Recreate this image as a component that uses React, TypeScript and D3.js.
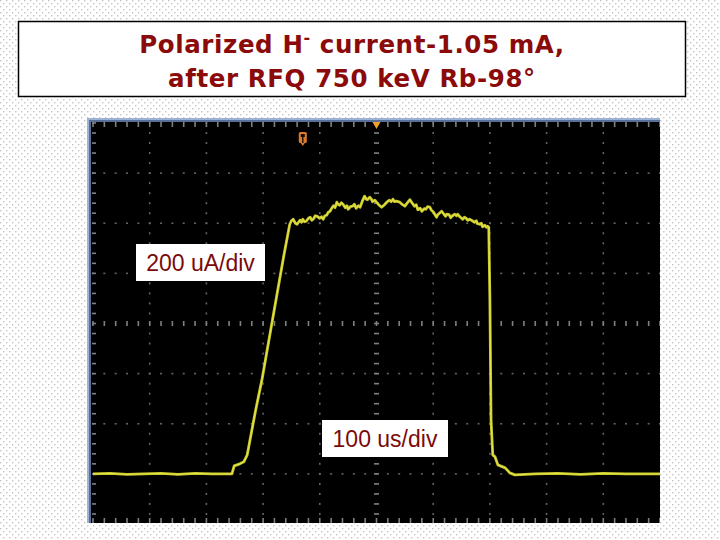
import React from 'react';
import * as d3 from 'd3';

// scope trace: time (us) and current (uA)
const timeUs = [
  0, 30, 60, 90, 120, 150, 180, 210, 245, 249, 259, 266, 272, 277, 287, 298, 312, 326, 337, 347,
  350, 353, 357, 360, 365, 368, 370, 373, 376, 380, 383, 386, 389, 392, 395, 400, 403, 406, 409, 412, 415, 418, 421, 424, 427, 430, 433, 435, 438, 441, 445, 448, 450, 454,
  458, 461, 464, 468, 471, 475, 479, 482, 484, 488, 491, 493, 497, 500, 503, 506, 509, 514, 518, 521, 523, 526, 529, 532, 535, 541, 546, 550,
  554, 559, 563, 567, 570, 573, 577, 580, 584, 587, 590, 594, 597, 600, 606, 608, 611, 615, 619, 622, 624, 628, 631, 633, 638, 641, 643, 647,
  652, 655, 658, 661, 664, 669, 673, 676, 678, 682, 685, 687, 691, 694, 696, 698, 700, 702, 705, 709, 714, 727, 735, 744,
  780, 820, 860, 900, 940, 1000
];
const currentUa = [
  0, 2, -2, 0, 2, -2, 2, 0, 0, 32, 40, 48, 76, 136, 256, 376, 556, 736, 876, 996,
  1010, 1016, 1000, 996, 1012, 1004, 1016, 1006, 1008, 1020, 1024, 1012, 1018, 1030, 1028, 1020, 1026, 1016, 1030, 1032, 1044, 1048, 1060, 1070, 1062, 1084, 1074, 1072, 1082, 1076, 1062, 1070, 1056, 1066,
  1068, 1076, 1060, 1070, 1064, 1088, 1108, 1096, 1094, 1104, 1096, 1086, 1092, 1084, 1076, 1070, 1064, 1074, 1084, 1090, 1092, 1086, 1096, 1086, 1088, 1084, 1074, 1068,
  1080, 1094, 1080, 1068, 1074, 1054, 1060, 1048, 1058, 1056, 1066, 1064, 1052, 1046, 1024, 1034, 1040, 1048, 1036, 1028, 1036, 1034, 1022, 1028, 1036, 1030, 1036, 1026,
  1016, 1024, 1020, 1012, 1016, 1010, 1004, 1010, 998, 996, 1000, 986, 992, 984, 988, 984, 696, 216, 76, 68, 36, 24, 4, -4,
  0, 2, -2, 2, 0, 0
];

const titleLine1 = 'Polarized H';
const titleSup = '-';
const titleLine1b = ' current-1.05 mA,';
const titleLine2 = 'after RFQ 750 keV Rb-98°';
const yLabel = '200 uA/div';
const xLabel = '100 us/div';

const timeDivs = d3.range(0, 1001, 100);
const currentDivs = d3.range(-200, 1401, 200);

const W = 720;
const H = 540;

const App: React.FC = () => {
  const scr = { left: 91, right: 660, top: 122, bottom: 523 };
  const x = d3.scaleLinear().domain([0, 1000]).range([93, 660]);
  const y = d3.scaleLinear().domain([-200, 1400]).range([524, 123]);

  const data = timeUs.map((t, i) => ({ t, v: currentUa[i] }));
  const line = d3.line<{ t: number; v: number }>()
    .x(d => x(d.t))
    .y(d => y(d.v));

  const minorX = d3.range(0, 1000.1, 20);
  const minorY = d3.range(-200, 1400.1, 40);
  const xMid = x(500);
  const yMid = y(600);

  const dots: React.ReactNode[] = [];
  // dotted graticule lines
  timeDivs.slice(1, -1).forEach(t => {
    if (t === 500) return;
    minorY.forEach(v => {
      dots.push(<rect key={`v${t}-${v}`} x={x(t) - 0.8} y={y(v) - 1} width={1.6} height={2} fill="#646464" />);
    });
  });
  currentDivs.slice(1, -1).forEach(v => {
    if (v === 600) return;
    minorX.forEach(t => {
      dots.push(<rect key={`h${v}-${t}`} x={x(t) - 1} y={y(v) - 0.8} width={2} height={1.6} fill="#646464" />);
    });
  });
  // centre cross and edge ticks
  minorY.forEach(v => {
    dots.push(<rect key={`cy${v}`} x={xMid - 2.5} y={y(v) - 0.8} width={5} height={1.6} fill="#808080" />);
    dots.push(<rect key={`ly${v}`} x={scr.left + 1} y={y(v) - 0.8} width={4} height={1.6} fill="#808080" />);
  });
  minorX.forEach(t => {
    dots.push(<rect key={`cx${t}`} x={x(t) - 0.8} y={yMid - 2.5} width={1.6} height={5} fill="#808080" />);
    dots.push(<rect key={`tx${t}`} x={x(t) - 0.8} y={scr.top} width={1.6} height={5} fill="#808080" />);
    dots.push(<rect key={`bx${t}`} x={x(t) - 0.8} y={scr.bottom - 5} width={1.6} height={5} fill="#808080" />);
  });

  const titleStyle = { fontFamily: '"DejaVu Sans", sans-serif', fontWeight: 700, fontSize: 24.5 };
  const labelStyle = { fontFamily: '"Liberation Sans", Arial, sans-serif', fontSize: 23 };

  return (
    <svg width={W} height={H} style={{ position: 'absolute', left: 0, top: 0 }}>
      <defs>
        <pattern id="bgdots" width={6} height={6} patternUnits="userSpaceOnUse">
          <rect width={6} height={6} fill="#ffffff" />
          <rect x={0} y={0} width={1.4} height={1.4} fill="#c4c4c4" />
          <rect x={3} y={3} width={1.4} height={1.4} fill="#c4c4c4" />
        </pattern>
        <clipPath id="screen">
          <rect x={scr.left} y={scr.top} width={scr.right - scr.left} height={scr.bottom - scr.top} />
        </clipPath>
      </defs>
      <rect width={W} height={H} fill="url(#bgdots)" />

      {/* title box */}
      <rect x={18.5} y={21.5} width={667} height={75} fill="#fff" stroke="#000" strokeWidth={1.5} />
      <text x={352} y={53} textAnchor="middle" fill="#8b0a0a" style={titleStyle} letterSpacing={0.6}>
        {titleLine1}
        <tspan dy={-10} fontSize={16}>{titleSup}</tspan>
        <tspan dy={10}>{titleLine1b}</tspan>
      </text>
      <text x={352} y={87} textAnchor="middle" fill="#8b0a0a" style={titleStyle} letterSpacing={0.6}>
        {titleLine2}
      </text>

      {/* scope screen */}
      <rect x={87} y={118} width={scr.right - 87} height={scr.bottom - 118} fill="#9db1d3" />
      <rect x={89} y={120} width={scr.right - 89} height={scr.bottom - 120} fill="#5a6f98" />
      <rect x={scr.left} y={scr.top} width={scr.right - scr.left} height={scr.bottom - scr.top} fill="#000" />
      <g clipPath="url(#screen)">
        {dots}
        <path d={line(data) || ''} fill="none" stroke="#c8c82a" strokeWidth={2.8} strokeLinejoin="round" />
        <path d={line(data) || ''} fill="none" stroke="#ecec55" strokeWidth={1} strokeLinejoin="round" opacity={0.8} />
        {/* trigger position marker */}
        <path d={`M${xMid - 4},${scr.top} L${xMid + 4},${scr.top} L${xMid},${scr.top + 7} Z`} fill="#f0a028" />
        {/* trigger point marker */}
        <rect x={x(370) - 4} y={132} width={8} height={11} rx={1.5} fill="#e07a28" />
        <rect x={x(370) - 0.7} y={134} width={1.4} height={9} fill="#111" />
        <rect x={x(370) - 2} y={134} width={4} height={3} fill="#111" />
        <path d={`M${x(370) - 2},143 L${x(370) + 2},143 L${x(370)},146 Z`} fill="#e07a28" />
      </g>

      {/* scale labels */}
      <rect x={136} y={244} width={129} height={37} fill="#fff" />
      <text x={200.5} y={271} textAnchor="middle" fill="#7a0a0a" style={labelStyle}>{yLabel}</text>
      <rect x={322} y={420} width={126} height={37} fill="#fff" />
      <text x={385} y={447} textAnchor="middle" fill="#7a0a0a" style={labelStyle}>{xLabel}</text>
    </svg>
  );
};

export default App;
